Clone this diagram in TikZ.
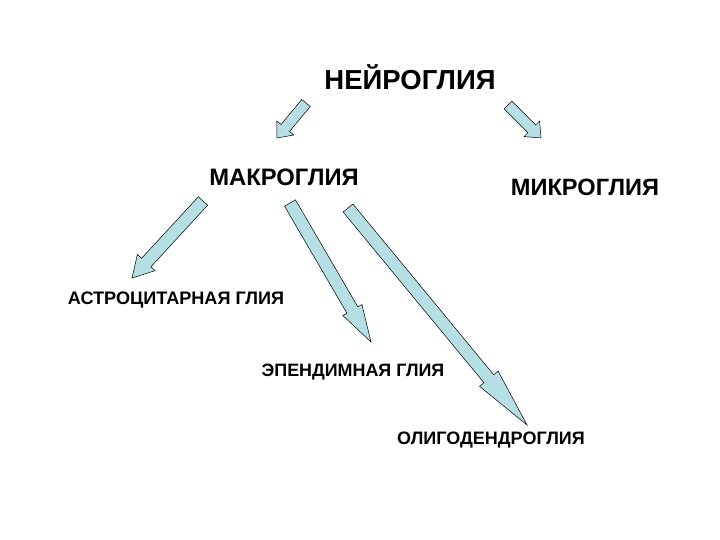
\documentclass[tikz,border=0pt]{standalone}
\usepackage{fontspec}
\setmainfont{Liberation Sans}
\usetikzlibrary{calc}
\definecolor{arrowfill}{RGB}{182,223,229}
\tikzset{
  lbl/.style={font=\bfseries, inner sep=0pt, text=black},
  blockarrow/.style={draw=black, line width=0.5pt, fill=arrowfill, line join=miter}
}
% #1 tail, #2 tip, #3 half shaft width, #4 half head width, #5 head length (pt)
\newcommand\blockarr[5]{%
  \coordinate (nk) at ($(#2)!#5pt!(#1)$);
  \draw[blockarrow]
    ($(#1)!#3pt!90:(#2)$) -- ($(nk)!#3pt!90:(#2)$) -- ($(nk)!#4pt!90:(#2)$) --
    (#2) -- ($(nk)!#4pt!-90:(#2)$) -- ($(nk)!#3pt!-90:(#2)$) --
    ($(#1)!#3pt!-90:(#2)$) -- cycle;
}
\begin{document}
\begin{tikzpicture}[x=1pt,y=-1pt]
\useasboundingbox (0,0) rectangle (720,540);
\fill[white] (0,0) rectangle (720,540);

\node[lbl, font=\bfseries\fontsize{27.5}{31}\selectfont] (neuro) at (410,77) {НЕЙРОГЛИЯ};
\node[lbl, font=\bfseries\fontsize{23.8}{27}\selectfont] (makro) at (284,177) {МАКРОГЛИЯ};
\node[lbl, font=\bfseries\fontsize{23.6}{27}\selectfont] (mikro) at (585,187) {МИКРОГЛИЯ};
\node[lbl, font=\bfseries\fontsize{18.1}{21}\selectfont] (astro) at (176,300) {АСТРОЦИТАРНАЯ ГЛИЯ};
\node[lbl, font=\bfseries\fontsize{17.9}{21}\selectfont] (epend) at (353,372) {ЭПЕНДИМНАЯ ГЛИЯ};
\node[lbl, font=\bfseries\fontsize{18}{21}\selectfont] (oligo) at (491,440) {ОЛИГОДЕНДРОГЛИЯ};

\coordinate (t1) at (306,103); \coordinate (h1) at (277,138);
\coordinate (t2) at (508,105); \coordinate (h2) at (541,138);
\coordinate (t3) at (203,201); \coordinate (h3) at (132,278);
\coordinate (t4) at (290,203); \coordinate (h4) at (371,342);
\coordinate (t5) at (348,208); \coordinate (h5) at (527,425);

\blockarr{t1}{h1}{5.5}{11}{13}
\blockarr{t2}{h2}{5.5}{11}{13}
\blockarr{t3}{h3}{6.3}{12}{21}
\blockarr{t4}{h4}{6.3}{11}{37}
\blockarr{t5}{h5}{6.3}{12}{60}
\end{tikzpicture}
\end{document}
